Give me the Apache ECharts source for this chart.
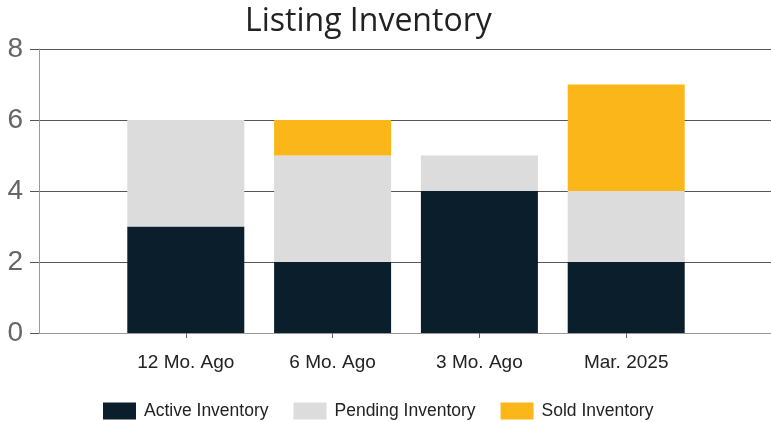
<!DOCTYPE html>
<html>
<head>
<meta charset="utf-8">
<script src="https://cdn.jsdelivr.net/npm/echarts@6/dist/echarts.min.js"></script>
<style>
  html, body { margin: 0; padding: 0; background: #fff; overflow: hidden; }
  /* a few px wider than the window: the right end of the plot runs off the edge */
  #chart { width: 776px; height: 422px; }
</style>
</head>
<body>
<div id="chart"></div>
<script>
// data
const categories = ["12 Mo. Ago", "6 Mo. Ago", "3 Mo. Ago", "Mar. 2025"];
const activeInventory = [3, 2, 4, 2];
const pendingInventory = [3, 3, 1, 2];
const soldInventory = [0, 1, 0, 3];

// one empty slot each side so the bars sit on the inner positions
const pad = (arr, blank) => [blank].concat(arr, [blank]);

const chart = echarts.init(document.getElementById("chart"));

chart.setOption({
  animation: false,
  title: {
    text: "Listing Inventory",
    left: 240,
    top: 1,
    textStyle: {
      fontFamily: "Open Sans",
      fontSize: 32,
      fontWeight: "normal",
      color: "#222",
    },
  },
  legend: {
    top: 397,
    left: 98,
    itemWidth: 33,
    itemHeight: 17,
    itemGap: 25,
    icon: "rect",
    textStyle: {
      fontFamily: "Liberation Sans",
      fontSize: 17.5,
      color: "#222",
      padding: [0, 0, 0, 3],
    },
  },
  grid: {
    left: 39,
    right: 0,
    top: 49,
    bottom: 89,
    containLabel: false,
  },
  xAxis: {
    type: "category",
    boundaryGap: false,
    data: pad(categories, ""),
    axisLine: { lineStyle: { color: "#999" } },
    axisTick: {
      length: 5,
      interval: (i) => i > 0 && i < categories.length + 1,
      lineStyle: { color: "#666" },
    },
    axisLabel: {
      interval: 0,
      margin: 20,
      fontFamily: "Liberation Sans",
      fontSize: 19,
      color: "#222",
    },
  },
  yAxis: {
    type: "value",
    min: 0,
    max: 8,
    interval: 2,
    axisLine: { show: true, lineStyle: { color: "#999" } },
    axisTick: { show: true, length: 9, lineStyle: { color: "#555" } },
    splitLine: { lineStyle: { color: "#555" } },
    axisLabel: {
      margin: 16,
      fontFamily: "Liberation Sans",
      fontSize: 28,
      color: "#666",
    },
  },
  series: [
    {
      name: "Active Inventory",
      type: "bar",
      stack: "inv",
      barWidth: 117,
      itemStyle: { color: "#0a1f2b" },
      data: pad(activeInventory, "-"),
    },
    {
      name: "Pending Inventory",
      type: "bar",
      stack: "inv",
      barWidth: 117,
      itemStyle: { color: "#dcdcdc" },
      data: pad(pendingInventory, "-"),
    },
    {
      name: "Sold Inventory",
      type: "bar",
      stack: "inv",
      barWidth: 117,
      itemStyle: { color: "#fbb61a" },
      data: pad(soldInventory, "-"),
    },
  ],
});
</script>
</body>
</html>
